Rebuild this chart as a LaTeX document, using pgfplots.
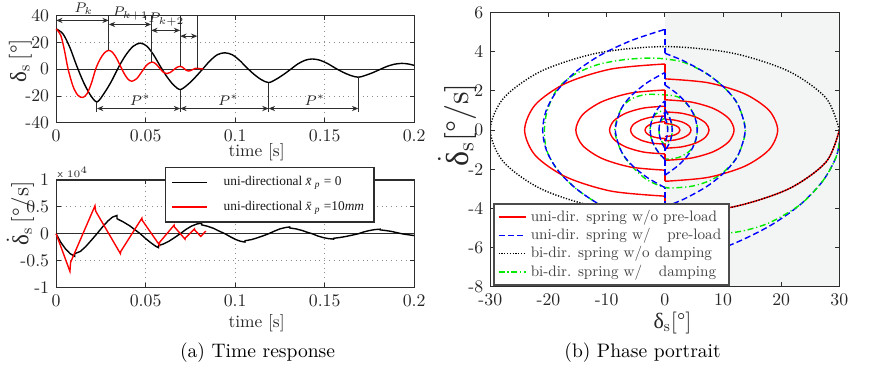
\documentclass[border=0pt]{standalone}
\usepackage{fontspec}
\setmainfont{lmroman10-regular.otf}[ItalicFont=lmroman10-italic.otf, BoldFont=lmroman10-bold.otf]
\newfontfamily\timesf{Liberation Serif}
\usepackage{pgfplots}
\pgfplotsset{compat=1.18}
\usetikzlibrary{arrows.meta}
\definecolor{axgray}{RGB}{45,45,45}
\definecolor{shadecol}{RGB}{243,245,244}
\definecolor{mred}{RGB}{255,0,0}
\definecolor{mblue}{RGB}{0,0,255}
\definecolor{mgreen}{RGB}{0,235,0}
\newcommand{\dl}{{\timesf δ}}
\newcommand{\ddl}{$\dot{\hbox{\timesf δ}}$}
\pgfplotsset{
  mat/.style={scale only axis, axis line style={axgray,line width=0.6pt},
    tick style={axgray,line width=0.5pt}, tick align=inside, major tick length=2.2pt,
    tick label style={font=\fontsize{8.9}{10}\selectfont, text=black!85},
    label style={text=black!85},
    scaled ticks=false, clip=false},
  redl/.style={mred,line width=0.7pt,smooth},
  bluel/.style={mblue,line width=0.7pt,smooth,dash pattern=on 3pt off 1.6pt},
  greenl/.style={mgreen,line width=0.7pt,smooth,dash pattern=on 3pt off 1.4pt on 0.6pt off 1.4pt},
  blackdot/.style={black,line width=0.7pt,smooth,dash pattern=on 0.6pt off 0.8pt},
}
\tikzset{
  annot/.style={axgray,line width=0.55pt},
  darr/.style={axgray,line width=0.55pt,{Stealth[length=3.2pt,width=2.6pt]}-{Stealth[length=3.2pt,width=2.6pt]}},
  plab/.style={font=\fontsize{7.2}{8}\selectfont,text=black!85,inner sep=0.5pt},
}
\begin{document}
\begin{tikzpicture}
\path (0pt,0pt) rectangle (434.5pt,-189.5pt);

% ---------------- top left: displacement ----------------
\begin{axis}[mat, at={(27pt,-7.5pt)}, anchor=north west, width=179.5pt, height=53.85pt,
  xmin=0, xmax=0.2, ymin=-40, ymax=40,
  xtick={0,0.05,0.1,0.15,0.2}, xticklabels={0,0.05,0.1,0.15,0.2},
  ytick={-40,-20,0,20,40}, yticklabels={-40,-20,0,20,40},
  grid=major, grid style={dotted, black!45, line width=0.4pt},
  xlabel={time [s]}, xlabel style={at={(axis description cs:0.56,-0.275)}, anchor=center, font=\fontsize{8.7}{10}\selectfont},
  ylabel={\dl\textsubscript{s}\,[°]}, ylabel style={at={(axis description cs:-0.1,0.58)}, anchor=center, font=\fontsize{11.5}{12}\selectfont},
]
\draw[axgray,line width=0.6pt] (axis cs:0,0) -- (axis cs:0.2,0);
\addplot[black,line width=0.7pt,smooth] coordinates {
(0,30) (0.0038,26.36) (0.0076,16.4) (0.0114,2.8) (0.0152,-9.44) (0.019,-19.0) (0.0228,-24.4)
(0.0268,-18.0) (0.0309,-9.0) (0.0349,1.5) (0.0389,10.5) (0.0430,17.0) (0.047,19.4)
(0.0507,17.08) (0.0544,10.75) (0.0582,2.1) (0.0619,-5.69) (0.0656,-11.8) (0.0693,-15.2)
(0.0735,-11.5) (0.0776,-6.2) (0.0818,0.0) (0.0860,6.3) (0.0901,10.8) (0.0943,12.2)
(0.0984,10.71) (0.1024,6.65) (0.1065,1.1) (0.1106,-3.9) (0.1146,-7.8) (0.1187,-10)
(0.1228,-7.6) (0.1268,-4.2) (0.1309,-0.2) (0.1349,3.8) (0.1390,6.6) (0.143,7.6)
(0.1473,6.69) (0.1516,4.2) (0.1559,0.8) (0.1602,-2.26) (0.1645,-4.7) (0.1688,-6)
(0.1728,-4.6) (0.1769,-2.6) (0.1809,-0.2) (0.1849,2.1) (0.1890,3.7) (0.193,4.3)
(0.1965,3.91) (0.2,2.81)};
\addplot[mred,line width=0.7pt,smooth] coordinates {
(0,30) (0.0025,25.5) (0.0045,15) (0.0067,0) (0.0095,-13) (0.0122,-19.5) (0.0149,-21.1)
(0.0173,-18.2) (0.0197,-10.5) (0.0222,0.5) (0.0246,7.5) (0.0270,12.2) (0.0294,14.0)
(0.03155,12.46) (0.0337,8.25) (0.03585,2.5) (0.038,-3.25) (0.04015,-7.46) (0.0423,-9)
(0.0451,-6.91) (0.0479,-1.85) (0.0507,3.21) (0.0535,5.3)
(0.05558,4.04) (0.05765,1.0) (0.05973,-2.04) (0.0618,-3.3)
(0.06368,-2.51) (0.06555,-0.6) (0.06743,1.31) (0.0693,2.1)
(0.07045,1.59) (0.0716,0.35) (0.07275,-0.89) (0.0739,-1.4)
(0.07505,-1.09) (0.0762,-0.35) (0.07735,0.39) (0.0785,0.7) (0.0805,0.35) (0.0823,0.1)};
% annotations
\draw[annot] (axis cs:0.0294,14) -- (axis cs:0.0294,40);
\draw[annot] (axis cs:0.0531,5.3) -- (axis cs:0.0531,40);
\draw[annot] (axis cs:0.0693,2.1) -- (axis cs:0.0693,40);
\draw[annot] (axis cs:0.0789,0.5) -- (axis cs:0.0789,40);
\draw[darr] (axis cs:0,36.3) -- (axis cs:0.0294,36.3);
\draw[darr] (axis cs:0.0294,33.3) -- (axis cs:0.0531,33.3);
\draw[darr] (axis cs:0.0531,28.9) -- (axis cs:0.0693,28.9);
\draw[darr] (axis cs:0.0693,24.6) -- (axis cs:0.0789,24.6);
\node[plab] at (axis cs:0.0154,45) {$P_{k}$};
\node[plab] at (axis cs:0.0416,41.6) {$P_{k+1}$};
\node[plab] at (axis cs:0.0616,36.9) {$P_{k+2}$};
\draw[annot] (axis cs:0.0228,-24.4) -- (axis cs:0.0228,-31.8);
\draw[annot] (axis cs:0.0693,-15.2) -- (axis cs:0.0693,-31.8);
\draw[annot] (axis cs:0.1187,-10) -- (axis cs:0.1187,-31.8);
\draw[annot] (axis cs:0.1688,-6) -- (axis cs:0.1688,-31.8);
\draw[darr] (axis cs:0.0228,-29.3) -- (axis cs:0.0693,-29.3);
\draw[darr] (axis cs:0.0693,-29.3) -- (axis cs:0.1187,-29.3);
\draw[darr] (axis cs:0.1187,-29.3) -- (axis cs:0.1688,-29.3);
\node[plab] at (axis cs:0.047,-23.1) {$P^{*}$};
\node[plab] at (axis cs:0.0962,-23.1) {$P^{*}$};
\node[plab] at (axis cs:0.1445,-23.1) {$P^{*}$};
\end{axis}

% ---------------- bottom left: velocity ----------------
\begin{axis}[mat, at={(27pt,-90pt)}, anchor=north west, width=179.5pt, height=53.85pt,
  xmin=0, xmax=0.2, ymin=-1, ymax=1,
  xtick={0,0.05,0.1,0.15,0.2}, xticklabels={0,0.05,0.1,0.15,0.2},
  ytick={-1,-0.5,0,0.5,1}, yticklabels={-1,-0.5,0,0.5,1},
  grid=major, grid style={dotted, black!45, line width=0.4pt},
  xlabel={time [s]}, xlabel style={at={(axis description cs:0.56,-0.328)}, anchor=center, font=\fontsize{8.7}{10}\selectfont},
  ylabel={\ddl\textsubscript{s}\,[°/s]}, ylabel style={at={(axis description cs:-0.1,0.69)}, anchor=center, font=\fontsize{11.5}{12}\selectfont},
  legend style={at={(axis description cs:0.3036,1.121)}, anchor=north west, draw=axgray, line width=0.6pt,
    font=\fontsize{6.7}{8}\timesf, text=black!90, cells={anchor=west}, row sep=2pt, inner xsep=3pt, inner ysep=2.5pt,
    /tikz/every odd column/.append style={column sep=6pt}},
  legend image code/.code={\draw[#1] (0pt,0pt) -- (17.5pt,0pt);},
]
\draw[axgray,line width=0.6pt] (axis cs:0,0) -- (axis cs:0.2,0);
\addplot[black,line width=0.7pt] coordinates {
(0,0) (0.0026,-0.16) (0.0052,-0.28) (0.0078,-0.37) (0.0104,-0.42) (0.0104,-0.37)
(0.0135,-0.33) (0.0165,-0.24) (0.0197,-0.12) (0.0228,0.0) (0.026,0.13) (0.029,0.24) (0.0315,0.31) (0.034,0.34) (0.034,0.28)
(0.0375,0.22) (0.041,0.15) (0.044,0.075) (0.047,0.0) (0.050,-0.09) (0.053,-0.17) (0.0555,-0.23) (0.0572,-0.26) (0.0572,-0.22)
(0.06,-0.19) (0.063,-0.14) (0.066,-0.075) (0.0693,0) (0.0725,0.08) (0.0755,0.14) (0.0785,0.18) (0.0813,0.2) (0.0813,0.165)
(0.0845,0.14) (0.088,0.1) (0.091,0.05) (0.0943,0) (0.0975,-0.06) (0.1005,-0.11) (0.103,-0.14) (0.1055,-0.155) (0.1055,-0.13)
(0.109,-0.11) (0.112,-0.08) (0.1155,-0.04) (0.1187,0) (0.122,0.05) (0.125,0.09) (0.128,0.115) (0.1305,0.127) (0.1305,0.108)
(0.134,0.09) (0.1375,0.06) (0.14,0.03) (0.143,0) (0.146,-0.04) (0.149,-0.07) (0.152,-0.09) (0.155,-0.1) (0.155,-0.085)
(0.1585,-0.07) (0.162,-0.05) (0.1655,-0.025) (0.1688,0) (0.172,0.035) (0.175,0.06) (0.178,0.077) (0.181,0.085) (0.181,0.072)
(0.184,0.06) (0.187,0.045) (0.19,0.023) (0.193,0) (0.1965,-0.018) (0.2,-0.034)};
\addlegendentry{uni-directional \textit{\=x}\textsubscript{\textit{p}}\ =\ 0}
\addplot[mred,line width=0.7pt] coordinates {
(0,0) (0.0077,-0.70) (0.0081,-0.53) (0.0217,0.52) (0.0221,0.42) (0.0359,-0.37) (0.0361,-0.33)
(0.0479,0.29) (0.0481,0.25) (0.0577,-0.21) (0.0578,-0.16) (0.0659,0.16) (0.066,0.13)
(0.0720,-0.10) (0.0721,-0.08) (0.0773,0.09) (0.0774,0.07) (0.0808,-0.05) (0.0836,0.05)};
\addlegendentry{uni-directional \textit{\=x}\textsubscript{\textit{p}}\ =10\textit{mm}}
\node[anchor=south west, font=\fontsize{5.5}{6}\sffamily, inner sep=0.5pt, text=black!85] at (rel axis cs:0,1.01) {x $10^{4}$};
\end{axis}

% ---------------- right: phase portrait ----------------
\begin{axis}[mat, clip=true, axis on top, at={(244.65pt,-6.15pt)}, anchor=north west, width=175pt, height=137.2pt,
  xmin=-30, xmax=30, ymin=-8, ymax=6,
  xtick={-30,-20,-10,0,10,20,30}, xticklabels={-30,-20,-10,0,10,20,30},
  ytick={-8,-6,-4,-2,0,2,4,6}, yticklabels={-8,-6,-4,-2,0,2,4,6},
  xlabel={\dl\textsubscript{s}[°]}, xlabel style={at={(axis description cs:0.522,-0.132)}, anchor=center, font=\fontsize{11}{12}\selectfont},
  ylabel={\ddl\textsubscript{s}[°/s]}, ylabel style={at={(axis description cs:-0.095,0.59)}, anchor=center, font=\fontsize{16}{18}\selectfont},
  legend style={at={(axis description cs:0.008,0.002)}, anchor=south west, draw=black!70, line width=0.8pt,
    font=\fontsize{7.6}{8.5}\selectfont, text=black!75, cells={anchor=west}, row sep=-2pt, inner xsep=2pt, inner ysep=1pt},
  legend image code/.code={\draw[#1] (0pt,0pt) -- (13.8pt,0pt);},
]
\fill[shadecol] (axis cs:0,-8) rectangle (axis cs:30,6);
\addplot[redl] coordinates {(30,0) (27.72,-1.634) (21.21,-3.019) (11.48,-3.945) (0,-4.27)};
\addlegendentry{uni-dir. spring w/o pre-load}
\addplot[bluel] coordinates {(30.3,0) (29.51,-1.319) (27.16,-2.599) (23.33,-3.8) (18.13,-4.885) (11.73,-5.822) (4.3,-6.582) (0,-6.907)};
\addlegendentry{uni-dir. spring w/\hspace{1.1em}pre-load}
\addplot[blackdot] coordinates {(30,0) (27.72,1.634) (21.21,3.019) (11.48,3.945) (0,4.27) (-11.48,3.945) (-21.21,3.019) (-27.72,1.634) (-30,0) (-27.72,-1.634) (-21.21,-3.019) (-11.48,-3.945) (0,-4.27) (11.48,-3.945) (21.21,-3.019) (27.72,-1.634) (30,0)};
\addlegendentry{bi-dir. spring w/o damping}
\addplot[greenl] coordinates {(30.3,0) (29.51,-1.319) (27.16,-2.599) (23.33,-3.8) (18.13,-4.72) (14,-5.12) (10.75,-5.27) (6,-5.33) (2.5,-5.2) (0,-5.0) (-5.75,-4.55) (-11.01,-3.844) (-15.28,-2.99) (-18.42,-2.045) (-20.3,-1.038) (-20.7,0) (-20.2,1.0) (-18.5,2.1) (-15.5,2.85) (-11.5,3.35) (-7,3.6) (-3,3.68) (0,3.64) (3.4,3.45) (7.38,2.851) (10.47,2.1) (12.59,1.286) (13.85,0) (12.59,-1.286) (10.47,-2.05) (8,-2.55) (5,-2.85) (2,-2.95) (0,-2.93) (-3.04,-2.55) (-5.67,-1.85) (-7.47,-1.1) (-8.6,0) (-7.47,1.1) (-5.67,1.6) (-3.2,1.82) (0,1.8) (2.37,1.68) (4.23,1.18) (5.3,0.6) (5.6,0) (5.22,-0.6) (4.23,-1.08) (2.37,-1.4) (0,-1.48) (-1.04,-1.159) (-1.88,-0.763) (-2.4,-0.35) (-2.55,0) (-2.37,0.354) (-1.88,0.72) (-1,0.93) (0,0.98) (0.6,0.78) (1.0,0.5) (1.25,0.22) (1.3,0) (1.2,-0.25) (0.9,-0.5) (0.4,-0.68) (0,-0.72) (-0.5,-0.6) (-0.9,-0.3) (-1.0,0) (-0.9,0.3) (-0.5,0.52) (0,0.58) (0.3,0.42) (0.45,0.2) (0.5,0)};
\addlegendentry{bi-dir. spring w/\hspace{1.1em}damping}
% red arcs
\addplot[redl,forget plot] coordinates {(0,-3.38) (-9.22,-3.123) (-17.04,-2.39) (-22.27,-1.294) (-24.1,0) (-22.27,1.294) (-17.04,2.39) (-9.22,3.123) (0,3.38)};
\addplot[redl,forget plot] coordinates {(0,2.62) (7.42,2.421) (13.72,1.853) (17.92,1.003) (19.4,0) (17.92,-1.003) (13.72,-1.853) (7.42,-2.421) (0,-2.62)};
\addplot[redl,forget plot] coordinates {(0,-2.05) (-5.86,-1.894) (-10.82,-1.45) (-14.14,-0.785) (-15.3,0) (-14.14,0.785) (-10.82,1.45) (-5.86,1.894) (0,2.05)};
\addplot[redl,forget plot] coordinates {(0,1.55) (4.55,1.432) (8.42,1.096) (10.99,0.593) (11.9,0) (10.99,-0.593) (8.42,-1.096) (4.55,-1.432) (0,-1.55)};
\addplot[redl,forget plot] coordinates {(0,-1.22) (-3.64,-1.127) (-6.72,-0.863) (-8.78,-0.467) (-9.5,0) (-8.78,0.467) (-6.72,0.863) (-3.64,1.127) (0,1.22)};
\addplot[redl,forget plot] coordinates {(0,0.93) (2.91,0.859) (5.37,0.658) (7.02,0.356) (7.6,0) (7.02,-0.356) (5.37,-0.658) (2.91,-0.859) (0,-0.93)};
\addplot[redl,forget plot] coordinates {(0,-0.72) (-2.26,-0.665) (-4.17,-0.509) (-5.45,-0.276) (-5.9,0) (-5.45,0.276) (-4.17,0.509) (-2.26,0.665) (0,0.72)};
\addplot[redl,forget plot] coordinates {(0,0.55) (1.72,0.508) (3.18,0.389) (4.16,0.21) (4.5,0) (4.16,-0.21) (3.18,-0.389) (1.72,-0.508) (0,-0.55)};
\addplot[redl,forget plot] coordinates {(0,-0.43) (-1.3,-0.397) (-2.4,-0.304) (-3.14,-0.165) (-3.4,0) (-3.14,0.165) (-2.4,0.304) (-1.3,0.397) (0,0.43)};
\addplot[redl,forget plot] coordinates {(0,0.33) (1.0,0.305) (1.84,0.233) (2.4,0.126) (2.6,0) (2.4,-0.126) (1.84,-0.233) (1.0,-0.305) (0,-0.33)};
\addplot[mred,line width=0.7pt,unbounded coords=jump,forget plot] coordinates {(0,-4.27) (0,-3.38) (0,nan) (0,3.38) (0,2.62) (0,nan) (0,-2.62) (0,-2.05) (0,nan) (0,2.05) (0,1.55) (0,nan) (0,-1.55) (0,-1.22) (0,nan) (0,1.22) (0,0.93) (0,nan) (0,-0.93) (0,-0.72) (0,nan) (0,0.72) (0,0.55) (0,nan) (0,-0.55) (0,-0.43) (0,nan) (0,0.43) (0,0.33)};
% blue arcs
\addplot[bluel,forget plot] coordinates {(0,-5.15) (-5.75,-4.581) (-11.01,-3.844) (-15.28,-2.99) (-18.42,-2.045) (-20.35,-1.038) (-21,0) (-20.35,1.038) (-18.42,2.045) (-15.28,2.99) (-11.01,3.844) (-5.75,4.581) (0,5.15)};
\addplot[bluel,forget plot] coordinates {(0,3.93) (3.4,3.514) (7.38,2.851) (10.47,2.1) (12.59,1.286) (13.8,0) (12.59,-1.286) (10.47,-2.1) (7.38,-2.851) (3.4,-3.514) (0,-3.93)};
\addplot[bluel,forget plot] coordinates {(0,-2.94) (-3.04,-2.426) (-5.67,-1.788) (-7.47,-1.095) (-8.5,0) (-7.47,1.095) (-5.67,1.788) (-3.04,2.426) (0,2.94)};
\addplot[bluel,forget plot] coordinates {(0,2.31) (2.37,1.794) (4.23,1.18) (5.22,0.598) (5.56,0) (5.22,-0.598) (4.23,-1.18) (2.37,-1.794) (0,-2.31)};
\addplot[bluel,forget plot] coordinates {(0,-1.5) (-1.04,-1.159) (-1.88,-0.763) (-2.37,-0.354) (-2.5,0) (-2.37,0.354) (-1.88,0.763) (-1.04,1.159) (0,1.5)};
\addplot[bluel,forget plot] coordinates {(0,1.06) (0.59,0.779) (0.99,0.504) (1.21,0.225) (1.27,0) (1.21,-0.225) (0.99,-0.504) (0.59,-0.779) (0,-1.06)};
\addplot[bluel,forget plot] coordinates {(0,-0.93) (-0.5,-0.661) (-0.88,-0.332) (-1.0,0) (-0.88,0.332) (-0.5,0.661) (0,0.93)};
\addplot[bluel,forget plot] coordinates {(0,0.65) (0.28,0.432) (0.45,0.216) (0.5,0) (0.45,-0.216) (0.28,-0.432) (0,-0.65)};
\addplot[mblue,line width=0.7pt,dash pattern=on 3pt off 1.6pt,unbounded coords=jump,forget plot] coordinates {(0,-6.907) (0,-5.15) (0,nan) (0,5.15) (0,3.93) (0,nan) (0,-3.93) (0,-2.94) (0,nan) (0,2.94) (0,2.31) (0,nan) (0,-2.31) (0,-1.5) (0,nan) (0,1.5) (0,1.06) (0,nan) (0,-1.06) (0,-0.93) (0,nan) (0,0.93) (0,0.65)};
\end{axis}

\node[font=\fontsize{9.8}{12}\selectfont] at (128pt,-176.5pt) {(a) Time response};
\node[font=\fontsize{9.8}{12}\selectfont] at (321pt,-176.5pt) {(b) Phase portrait};
\end{tikzpicture}
\end{document}
